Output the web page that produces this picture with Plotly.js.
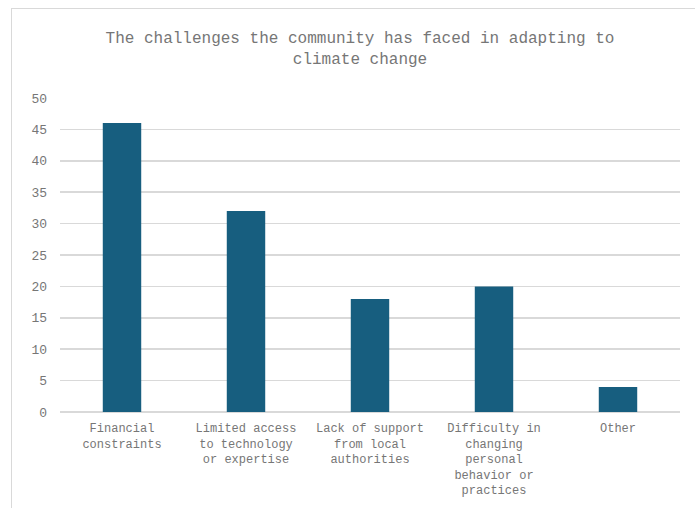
<!DOCTYPE html>
<html>
<head>
<meta charset="utf-8">
<script src="https://cdn.plot.ly/plotly-3.0.1.min.js"></script>
<style>
html,body{margin:0;padding:0;background:#fff;}
#wrap{position:relative;width:695px;height:508px;overflow:hidden;}
#chart{position:absolute;left:0;top:0;width:695px;height:508px;}
#frame{position:absolute;left:11px;top:8px;width:690px;height:520px;border:1.5px solid #d9d9d9;box-sizing:border-box;pointer-events:none;}
</style>
</head>
<body>
<div id="wrap"><div id="chart"></div><div id="frame"></div></div>
<script>
const categories = [
  "Financial<br>constraints",
  "Limited access<br>to technology<br>or expertise",
  "Lack of support<br>from local<br>authorities",
  "Difficulty in<br>changing<br>personal<br>behavior or<br>practices",
  "Other"
];
const values = [46, 32, 18, 20, 4];
const yTicks = [0, 5, 10, 15, 20, 25, 30, 35, 40, 45, 50];

const font = "Liberation Mono, Courier New, monospace";
const gray = "#767676";

Plotly.newPlot("chart", [{
  type: "bar",
  x: categories,
  y: values,
  marker: {color: "#175E7F"},
  hoverinfo: "none"
}], {
  width: 695, height: 508,
  margin: {l: 60, r: 15, t: 98, b: 96},
  paper_bgcolor: "#fff", plot_bgcolor: "#fff",
  bargap: 0.69,
  showlegend: false,
  title: {
    text: "The challenges the community has faced in adapting to<br>climate change",
    font: {family: font, size: 16, color: gray},
    x: 360/695, xanchor: "center", xref: "container",
    y: 1 - 43/508, yanchor: "top", yref: "container"
  },
  xaxis: {
    tickfont: {family: font, size: 12, color: gray},
    showgrid: false, ticks: "", showline: false, zeroline: false,
    ticklabelstandoff: 7
  },
  yaxis: {
    range: [0, 50],
    tickvals: yTicks,
    ticktext: yTicks.map(String),
    tickfont: {family: font, size: 13, color: gray},
    gridcolor: "#d9d9d9", gridwidth: 1.5,
    zeroline: true, zerolinecolor: "#d9d9d9", zerolinewidth: 1.5,
    showline: false, ticks: "", ticklabelstandoff: 12
  }
}, {staticPlot: true, displayModeBar: false});
</script>
</body>
</html>
